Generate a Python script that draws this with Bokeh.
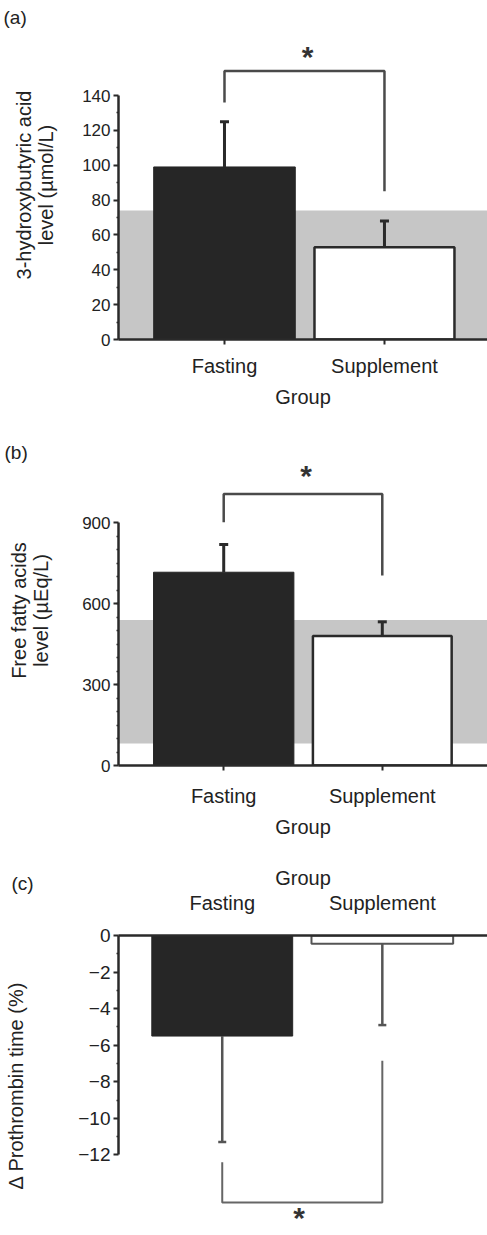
from bokeh.plotting import figure
from bokeh.layouts import column
from bokeh.models import FixedTicker, Title, Range1d
from bokeh.core.properties import value
from bokeh.embed import file_html
from bokeh.resources import INLINE

FONT = "Liberation Sans"

groups = ["Fasting", "Supplement"]
xpos = [1, 2]

# Panel (a): 3-hydroxybutyric acid (umol/L)
a_mean = [99, 53]
a_err = [125, 68]
a_band = [0, 74]
a_ticks = [0, 20, 40, 60, 80, 100, 120, 140]
a_bracket = [136, 154, 85]   # left leg end, top, right leg end
a_star = 165

# Panel (b): free fatty acids (uEq/L)
b_mean = [717, 480]
b_err = [820, 533]
b_band = [82, 540]
b_ticks = [0, 300, 600, 900]
b_bracket = [902, 1007, 705]
b_star = 1095

# Panel (c): delta prothrombin time (%)
c_mean = [-5.5, -0.45]
c_err = [-11.3, -4.9]
c_ticks = [0, -2, -4, -6, -8, -10, -12]
c_tick_labels = ["0", "\u22122", "\u22124", "\u22126", "\u22128", "\u221210", "\u221212"]
c_bracket = [-12.4, -14.6, -6.85]
c_star = -16.35

BAR_DARK = "#262626"
LINE = "#2a2a2a"
BAND = "#c6c6c6"
BRACKET = "#4a4a4a"


def style_axes(p, ytick_size="17px", ylabel_standoff=25):
    for ax in p.yaxis:
        ax.major_label_text_font = FONT
        ax.major_label_text_font_size = ytick_size
        ax.major_label_text_color = "#222222"
        ax.axis_label_text_font = FONT
        ax.axis_label_text_font_size = "20px"
        ax.axis_label_text_font_style = "normal"
        ax.axis_label_text_color = "#222222"
        ax.axis_label_text_line_height = 1.0
        ax.axis_label_standoff = ylabel_standoff
        ax.axis_line_color = LINE
        ax.axis_line_width = 2.5
        ax.major_tick_line_color = LINE
        ax.major_tick_line_width = 2
        ax.major_tick_out = 5
        ax.major_tick_in = 0
        ax.minor_tick_line_color = LINE
        ax.minor_tick_line_width = 1.5
        ax.minor_tick_out = 2
        ax.minor_tick_in = 0
        ax.major_label_standoff = 3
    for ax in p.xaxis:
        ax.major_label_text_font = FONT
        ax.major_label_text_font_size = "20px"
        ax.major_label_text_color = "#222222"
        ax.axis_label_text_font = FONT
        ax.axis_label_text_font_size = "20px"
        ax.axis_label_text_font_style = "normal"
        ax.axis_label_text_color = "#222222"
        ax.axis_line_color = LINE
        ax.axis_line_width = 2.5
        ax.major_tick_line_color = LINE
        ax.major_tick_line_width = 2
        ax.minor_tick_line_color = None
        ax.ticker = FixedTicker(ticks=xpos)
        ax.major_label_overrides = {x: g for x, g in zip(xpos, groups)}
    p.xgrid.visible = False
    p.ygrid.visible = False
    p.outline_line_color = None
    p.background_fill_color = "white"
    p.border_fill_color = "white"


def panel_label(p, text, offset, standoff):
    p.add_layout(Title(text=text, align="left", offset=offset, standoff=standoff,
                       text_font=FONT, text_font_size="19px", text_font_style="normal",
                       text_color="#222222"), "above")


def star(p, x, y, baseline="middle", y_off=5):
    p.text(x=[x], y=[y], text=["*"], text_font=value(FONT), text_font_size="30px",
           text_font_style="bold", text_color="#333333",
           text_align="center", text_baseline=baseline, y_offset=y_off)


def upper_panel(mean, err, band, ticks, minor, bracket, star_y, yend, ylabel,
                border_left, top, bottom, xstart, xend, tag, tag_standoff, ylab_off, xlab_off):
    p = figure(width=487, height=420, output_backend="svg", toolbar_location=None,
               x_range=Range1d(xstart, xend), y_range=Range1d(0, yend),
               min_border_left=border_left, min_border_right=0,
               min_border_top=top, min_border_bottom=bottom)
    # reference range band
    p.quad(left=[xstart], right=[xend], bottom=[band[0]], top=[band[1]],
           fill_color=BAND, line_color=None)
    # bars
    p.vbar(x=[xpos[0]], top=[mean[0]], bottom=0, width=0.885,
           fill_color=BAR_DARK, line_color=BAR_DARK, line_width=1)
    p.vbar(x=[xpos[1]], top=[mean[1]], bottom=0, width=0.875,
           fill_color="white", line_color=LINE, line_width=2.5)
    # error bars
    p.segment(x0=xpos, y0=mean, x1=xpos, y1=err, line_color=LINE, line_width=3)
    p.scatter(x=xpos, y=err, marker="dash", size=9, line_color=LINE, line_width=3)
    # significance bracket
    p.line(x=[xpos[0], xpos[0], xpos[1], xpos[1]],
           y=[bracket[0], bracket[1], bracket[1], bracket[2]],
           line_color=BRACKET, line_width=2.5)
    star(p, 1.52, star_y)
    p.yaxis.ticker = FixedTicker(ticks=ticks, minor_ticks=minor)
    p.yaxis.bounds = (ticks[0], ticks[-1])
    p.yaxis.axis_label = ylabel
    p.xaxis.axis_label = "Group"
    style_axes(p, ylabel_standoff=ylab_off)
    p.xaxis.major_tick_out = 5
    p.xaxis.major_tick_in = 0
    p.xaxis.major_label_standoff = xlab_off
    p.xaxis.axis_label_standoff = 6
    panel_label(p, tag, 3 - border_left, tag_standoff)
    return p


pa = upper_panel(a_mean, a_err, a_band, a_ticks, list(range(10, 140, 20)), a_bracket,
                 a_star, 177.3, "3-hydroxybutyric acid\nlevel (\u00b5mol/L)",
                 118, 30, 81, 0.3375, 2.644, "(a)", 6, 22, 10)
pb = upper_panel(b_mean, b_err, b_band, b_ticks, list(range(50, 900, 50)), b_bracket,
                 b_star, 1150, "Free fatty acids\nlevel (\u00b5Eq/L)",
                 117, 35, 74, 0.3365, 2.6635, "(b)", -14, 27, 14)

# Panel (c)
pc = figure(width=487, height=395, output_backend="svg", toolbar_location=None,
            x_range=Range1d(0.352, 2.657), y_range=Range1d(-16.41, 0),
            x_axis_location="above",
            min_border_left=110, min_border_right=0, min_border_top=95, min_border_bottom=0)
pc.vbar(x=[xpos[0]], top=0, bottom=[c_mean[0]], width=0.88,
        fill_color=BAR_DARK, line_color=BAR_DARK, line_width=1)
pc.vbar(x=[xpos[1]], top=0, bottom=[c_mean[1]], width=0.885,
        fill_color="white", line_color="#555555", line_width=2)
pc.segment(x0=xpos, y0=c_mean, x1=xpos, y1=c_err, line_color="#555555", line_width=2.5)
pc.scatter(x=xpos, y=c_err, marker="dash", size=8, line_color="#555555", line_width=2.5)
pc.line(x=[xpos[0], xpos[0], xpos[1], xpos[1]],
        y=[c_bracket[0], c_bracket[1], c_bracket[1], c_bracket[2]],
        line_color="#666666", line_width=2)
star(pc, 1.48, c_star, baseline="bottom", y_off=0)
pc.yaxis.ticker = FixedTicker(ticks=c_ticks, minor_ticks=[-1, -3, -5, -7, -9, -11])
pc.yaxis.bounds = (-12, 0)
pc.yaxis.major_label_overrides = {t: s for t, s in zip(c_ticks, c_tick_labels)}
pc.yaxis.axis_label = "\u0394 Prothrombin time (%)"
pc.xaxis.axis_label = "Group"
style_axes(pc, ytick_size="19px", ylabel_standoff=48)
pc.xaxis.major_tick_out = 0
pc.xaxis.major_tick_in = 0
pc.xaxis.major_label_standoff = 22
pc.xaxis.axis_label_standoff = 0
panel_label(pc, "(c)", 3 - 110, -60)

layout = column(pa, pb, pc, spacing=0)
open("out.html", "w").write(file_html(layout, INLINE))
